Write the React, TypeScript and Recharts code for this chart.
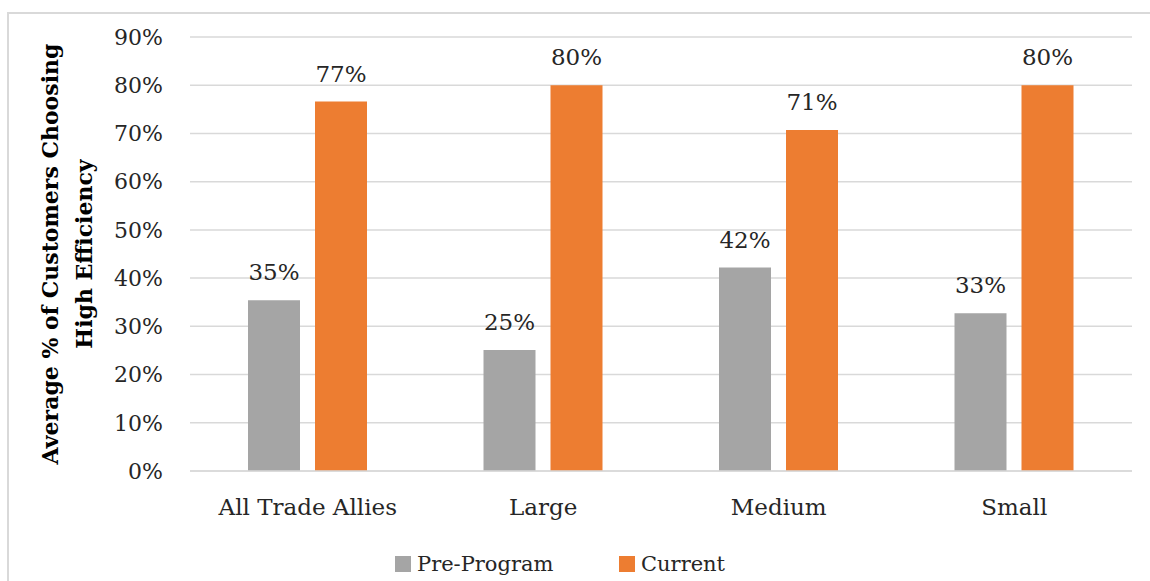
import React from 'react';
import { BarChart, Bar, XAxis, YAxis, CartesianGrid, LabelList } from 'recharts';

const categories = ['All Trade Allies', 'Large', 'Medium', 'Small'];
const preProgram = [35.4, 25.1, 42.2, 32.7];
const current = [76.6, 80.0, 70.7, 80.0];
const yTicks = [0, 10, 20, 30, 40, 50, 60, 70, 80, 90];

const data = categories.map((name, i) => ({ name, pre: preProgram[i], cur: current[i] }));

const FONT = '"DejaVu Serif", serif';
const TEXT = '#262626';
const GRAY = '#A5A5A5';
const ORANGE = '#ED7D31';

const YLabel = (props: any) => {
  const vb = props.viewBox || {};
  const cy = (vb.y ?? 0) + (vb.height ?? 0) / 2;
  return (
    <g fontFamily={FONT} fontWeight="bold" fontSize={22} fill="#000">
      <text x={58} y={cy} transform={`rotate(-90 58 ${cy})`} textAnchor="middle">
        Average % of Customers Choosing
      </text>
      <text x={92} y={cy} transform={`rotate(-90 92 ${cy})`} textAnchor="middle">
        High Efficiency
      </text>
    </g>
  );
};

const LegendItem = ({ left, color, label }: { left: number; color: string; label: string }) => (
  <div style={{ position: 'absolute', left, top: 552, display: 'flex', alignItems: 'center', fontFamily: FONT, fontSize: 21, color: TEXT }}>
    <span style={{ width: 16, height: 16, background: color, display: 'inline-block', marginRight: 6 }} />
    <span>{label}</span>
  </div>
);

const App: React.FC = () => {
  return (
    <div style={{ position: 'absolute', left: 0, top: 0, width: 1150, height: 581, background: '#fff', overflow: 'hidden' }}>
      <div style={{ position: 'absolute', left: 7, top: 12, width: 1160, height: 600, border: '2px solid #D9D9D9' }} />
      <BarChart
        width={1150}
        height={581}
        data={data}
        margin={{ top: 37, right: 18, bottom: 80, left: 0 }}
        barSize={52}
        barGap={15}
        style={{ position: 'absolute', left: 0, top: 0 }}
      >
        <CartesianGrid vertical={false} stroke="#D9D9D9" strokeWidth={1.5} />
        <XAxis
          dataKey="name"
          axisLine={{ stroke: '#D9D9D9', strokeWidth: 1.5 }}
          tickLine={false}
          tickSize={0}
          tickMargin={28}
          tick={{ fontFamily: FONT, fontSize: 23, fill: TEXT }}
        />
        <YAxis
          width={190}
          domain={[0, 90]}
          ticks={yTicks}
          interval={0}
          axisLine={false}
          tickLine={false}
          tickSize={0}
          tickMargin={27}
          tickFormatter={(v: number) => `${v}%`}
          tick={{ fontFamily: FONT, fontSize: 22, fill: TEXT }}
          label={<YLabel />}
        />
        <Bar dataKey="pre" name="Pre-Program" fill={GRAY} isAnimationActive={false}>
          <LabelList
            dataKey="pre"
            position="top"
            offset={20}
            formatter={(v: any) => `${Math.round(Number(v))}%`}
            style={{ fontFamily: FONT, fontSize: 23, fill: TEXT }}
          />
        </Bar>
        <Bar dataKey="cur" name="Current" fill={ORANGE} isAnimationActive={false}>
          <LabelList
            dataKey="cur"
            position="top"
            offset={20}
            formatter={(v: any) => `${Math.round(Number(v))}%`}
            style={{ fontFamily: FONT, fontSize: 23, fill: TEXT }}
          />
        </Bar>
      </BarChart>
      <LegendItem left={395} color={GRAY} label="Pre-Program" />
      <LegendItem left={619} color={ORANGE} label="Current" />
    </div>
  );
};

export default App;
